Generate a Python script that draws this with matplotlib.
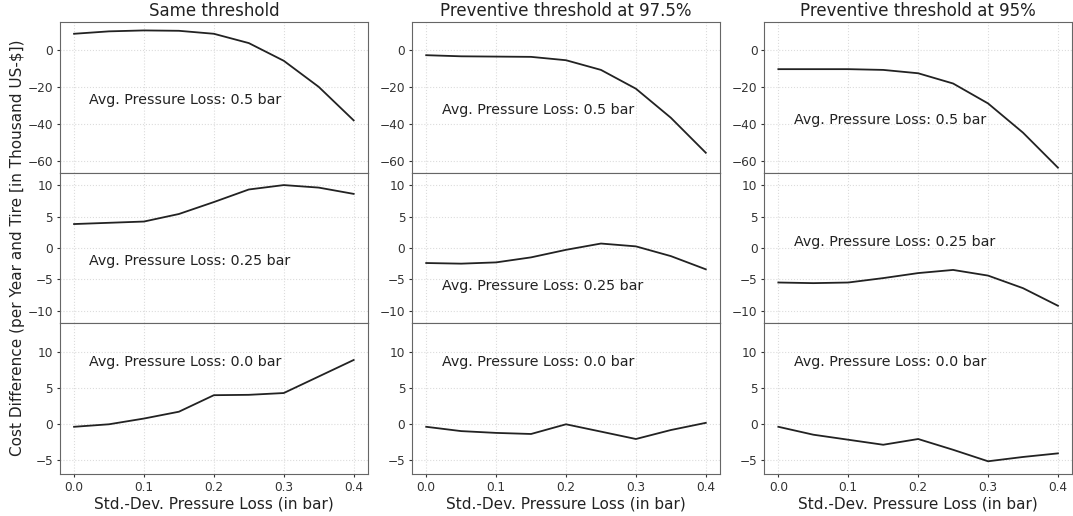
import numpy as np
import matplotlib
matplotlib.use('Agg')
import matplotlib.pyplot as plt

# std-dev of pressure loss (in bar)
std_dev = [0.0, 0.05, 0.1, 0.15, 0.2, 0.25, 0.3, 0.35, 0.4]

titles = ['Same threshold', 'Preventive threshold at 97.5%', 'Preventive threshold at 95%']
avg_loss = ['0.5', '0.25', '0.0']

# cost difference, rows = avg. pressure loss 0.5 / 0.25 / 0.0 bar
same_05 = [8.5, 9.8, 10.3, 10.1, 8.5, 3.5, -6.0, -20.0, -38.0]
same_025 = [3.8, 4.0, 4.2, 5.4, 7.3, 9.3, 10.0, 9.6, 8.6]
same_00 = [-0.4, -0.05, 0.75, 1.7, 4.0, 4.05, 4.3, 6.6, 8.9]

p975_05 = [-3.0, -3.6, -3.75, -3.9, -5.7, -10.9, -21.0, -36.6, -55.4]
p975_025 = [-2.4, -2.5, -2.3, -1.5, -0.3, 0.7, 0.25, -1.3, -3.4]
p975_00 = [-0.4, -1.0, -1.25, -1.4, -0.05, -1.07, -2.1, -0.85, 0.15]

p95_05 = [-10.5, -10.5, -10.5, -10.9, -12.7, -18.2, -28.9, -44.6, -63.4]
p95_025 = [-5.5, -5.6, -5.5, -4.8, -4.0, -3.5, -4.4, -6.4, -9.2]
p95_00 = [-0.4, -1.5, -2.2, -2.9, -2.1, -3.6, -5.2, -4.6, -4.1]

data = [[same_05, p975_05, p95_05],
        [same_025, p975_025, p95_025],
        [same_00, p975_00, p95_00]]

# where the annotation sits in each panel (data coords)
text_y = [[-27, -32.5, -38],
          [-2, -6, 1],
          [8.6, 8.6, 8.6]]

ylims = [(-66, 15), (-12, 12), (-7, 14)]

fig, axes = plt.subplots(3, 3, figsize=(10.73, 5.16), dpi=100, sharex='col',
                         gridspec_kw=dict(left=0.056, right=0.999, bottom=0.081,
                                          top=0.958, hspace=0, wspace=0.145))

for r in range(3):
    for c in range(3):
        ax = axes[r, c]
        ax.plot(std_dev, data[r][c], color='#222222', linewidth=1.3)
        ax.set_ylim(*ylims[r])
        ax.set_xlim(-0.02, 0.42)
        ax.set_xticks([0.0, 0.1, 0.2, 0.3, 0.4])
        ax.grid(True, color='#dcdcdc', linestyle=':', linewidth=0.8)
        ax.text(0.022, text_y[r][c], 'Avg. Pressure Loss: ' + avg_loss[r] + ' bar',
                fontsize=10.3, color='#222222', va='center')
        ax.tick_params(labelsize=8.7, colors='#333333', length=2, pad=3)
        for s in ax.spines.values():
            s.set_color('#666666')
        if r == 0:
            ax.set_title(titles[c], fontsize=12, color='#222222', pad=4)
        if r == 2:
            ax.set_xlabel('Std.-Dev. Pressure Loss (in bar)', fontsize=11, color='#222222',
                          labelpad=2)

for c in range(3):
    axes[0, c].set_yticks([0, -20, -40, -60])
    axes[1, c].set_yticks([10, 5, 0, -5, -10])
    axes[2, c].set_yticks([10, 5, 0, -5])

fig.text(0.016, 0.52, 'Cost Difference (per Year and Tire [in Thousand US-$])',
         rotation=90, va='center', ha='center', fontsize=11, color='#222222')

fig.savefig('out.png', dpi=100)
